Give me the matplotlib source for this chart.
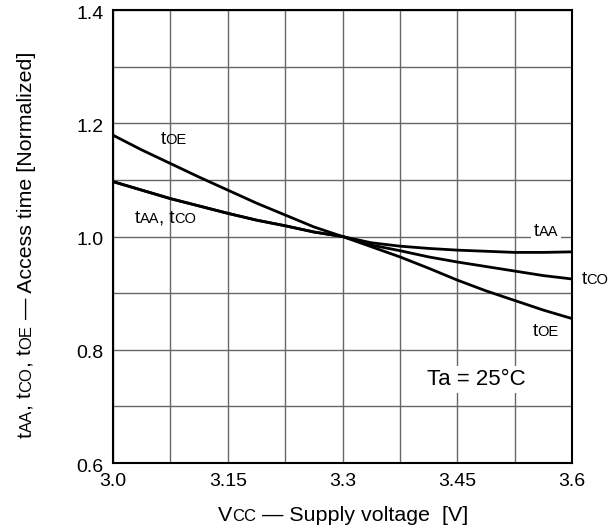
import matplotlib
matplotlib.use("Agg")
import matplotlib.pyplot as plt

plt.rcParams['font.family'] = ['Liberation Sans', 'DejaVu Sans']

# supply voltage [V]
vcc = [3.0, 3.0375, 3.075, 3.1125, 3.15, 3.1875, 3.225, 3.2625, 3.3,
       3.3375, 3.375, 3.4125, 3.45, 3.4875, 3.525, 3.5625, 3.6]

# normalized access times
t_oe = [1.179, 1.153, 1.129, 1.105, 1.082, 1.059, 1.038, 1.017, 1.0,
        0.982, 0.964, 0.944, 0.923, 0.904, 0.887, 0.870, 0.855]
t_aa = [1.097, 1.082, 1.067, 1.054, 1.041, 1.029, 1.019, 1.008, 1.0,
        0.989, 0.983, 0.979, 0.976, 0.974, 0.972, 0.972, 0.973]
t_co = [1.097, 1.082, 1.067, 1.054, 1.041, 1.029, 1.019, 1.008, 1.0,
        0.985, 0.975, 0.964, 0.955, 0.947, 0.939, 0.931, 0.925]

xticks = [3.0, 3.15, 3.3, 3.45, 3.6]
xtick_labels = ["3.0", "3.15", "3.3", "3.45", "3.6"]
yticks = [0.6, 0.8, 1.0, 1.2, 1.4]
ytick_labels = ["0.6", "0.8", "1.0", "1.2", "1.4"]

BIG = 13.5
SMALL = 10.5
DESC = 0.21  # descent of the font, in em

fig = plt.figure(figsize=(6.14, 5.28), dpi=100)
ax = fig.add_axes([0.184, 0.123, 0.748, 0.858])

ax.set_xlim(3.0, 3.6)
ax.set_ylim(0.6, 1.4)
ax.set_xticks([3.0 + 0.075 * i for i in range(9)])
ax.set_yticks([0.6 + 0.1 * i for i in range(9)])
ax.set_xticklabels([])
ax.set_yticklabels([])
ax.tick_params(length=0)
ax.grid(True, color='#666666', linewidth=1.0)
ax.set_axisbelow(True)
for s in ax.spines.values():
    s.set_linewidth(1.5)

for xv, lab in zip(xticks, xtick_labels):
    ax.annotate(lab, xy=(xv, 0), xycoords=('data', 'axes fraction'),
                xytext=(0, -7), textcoords='offset points',
                ha='center', va='top', fontsize=14)
for yv, lab in zip(yticks, ytick_labels):
    ax.annotate(lab, xy=(0, yv), xycoords=('axes fraction', 'data'),
                xytext=(-7, -3), textcoords='offset points',
                ha='right', va='center', fontsize=14)

ax.plot(vcc, t_oe, color='black', linewidth=2)
ax.plot(vcc, t_aa, color='black', linewidth=2)
ax.plot(vcc, t_co, color='black', linewidth=2)


def chain_text(x, y, parts, coords='data', rotation=0, color='black', bb=None, z=5):
    # draw pieces one after another, small letters for the subscripts,
    # shifted so that all pieces share one baseline
    prev = None
    prev_fs = None
    for s, fs in parts:
        if prev is None:
            if rotation == 0:
                prev = ax.annotate(s, xy=(x, y), xycoords=coords, ha='left', va='bottom',
                                   fontsize=fs, bbox=bb, color=color, zorder=z,
                                   annotation_clip=False)
            else:
                prev = ax.annotate(s, xy=(x, y), xycoords=coords, ha='right', va='bottom',
                                   rotation=90, fontsize=fs, annotation_clip=False)
        else:
            d = DESC * (prev_fs - fs)
            if rotation == 0:
                prev = ax.annotate(s, xy=(1, 0), xycoords=prev, xytext=(0, d),
                                   textcoords='offset points', ha='left', va='bottom',
                                   fontsize=fs, bbox=bb, color=color, zorder=z,
                                   annotation_clip=False)
            else:
                prev = ax.annotate(s, xy=(1, 1), xycoords=prev, xytext=(-d, 0),
                                   textcoords='offset points', ha='right', va='bottom',
                                   rotation=90, fontsize=fs, annotation_clip=False)
        prev_fs = fs
    return prev


def boxed_label(x, y, parts):
    # white patch under the label so grid lines stop there
    white = dict(facecolor='white', edgecolor='none', pad=2)
    chain_text(x, y, parts, color='white', bb=white, z=4)
    chain_text(x, y, parts)


chain_text(3.062, 1.156, [("t", BIG), ("OE", SMALL)])
chain_text(3.028, 1.017, [("t", BIG), ("AA", SMALL), (", t", BIG), ("CO", SMALL)])
boxed_label(3.550, 0.994, [("t", BIG), ("AA", SMALL)])
chain_text(3.612, 0.909, [("t", BIG), ("CO", SMALL)])
boxed_label(3.548, 0.818, [("t", BIG), ("OE", SMALL)])

ax.text(3.475, 0.738, "Ta = 25°C", ha='center', va='baseline', fontsize=16,
        bbox=dict(facecolor='white', edgecolor='none', pad=2))

# axis labels
chain_text(0.355, 0.005, [("V", 15.4), ("CC", 12), (" — Supply voltage  [V]", 15.4)],
           coords='figure fraction')
chain_text(0.058, 0.17, [("t", 15.4), ("AA", 12), (", t", 15.4), ("CO", 12), (", t", 15.4),
                         ("OE", 12), (" — Access time [Normalized]", 15.4)],
           coords='figure fraction', rotation=90)

fig.savefig("out.png", dpi=100)
